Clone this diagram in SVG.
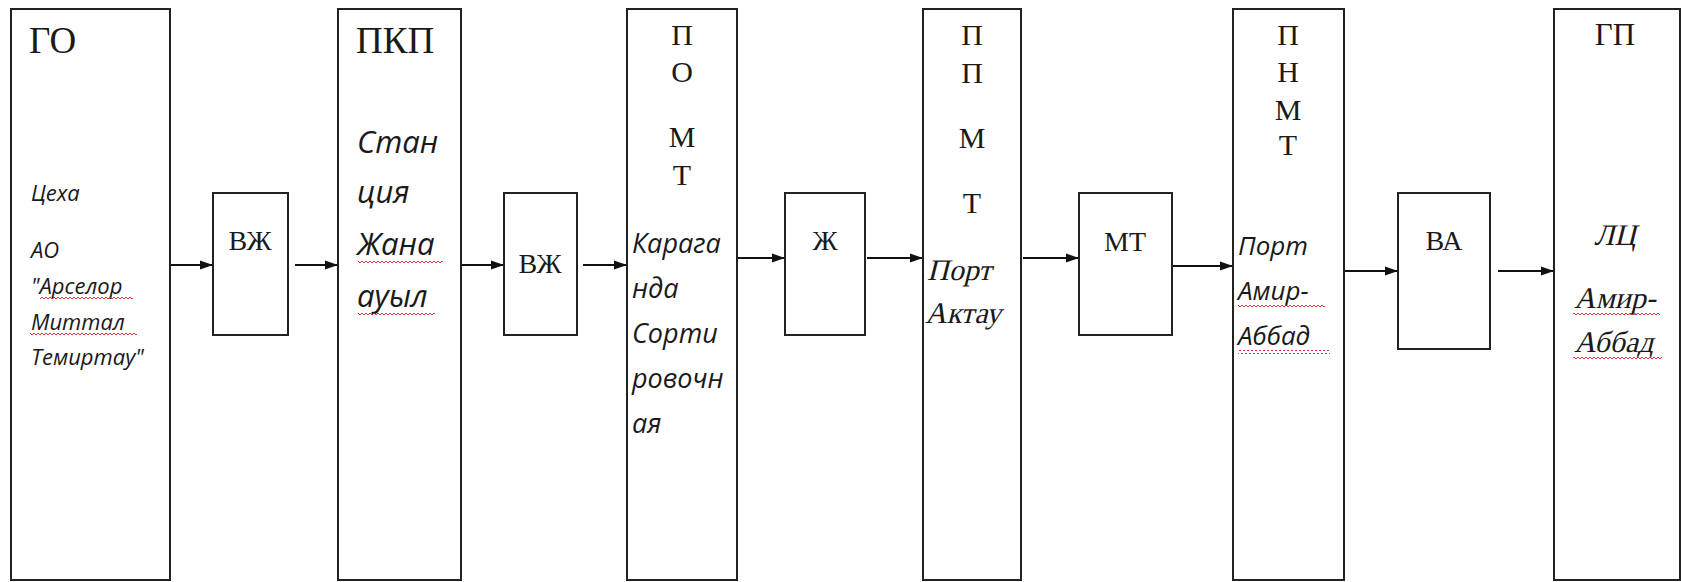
<svg xmlns="http://www.w3.org/2000/svg" width="1681" height="582" viewBox="0 0 1681 582">
<style>
.box{fill:#fff;stroke:#222;stroke-width:2}
.ln{stroke:#111;stroke-width:2;fill:none;marker-end:url(#ah)}
.t{font-family:"Liberation Serif","Times New Roman",serif;fill:#1a1a1a}
.big{font-size:37px}
.ltr{font-size:30px;text-anchor:middle}
.sm{font-size:28px;text-anchor:middle}
.si{font-family:"Open Sans","Noto Sans","DejaVu Sans",sans-serif;font-style:italic;fill:#1a1a1a}
.ti{font-family:"Liberation Serif","Times New Roman",serif;fill:#1a1a1a}
.wav{fill:url(#wave)}
</style>
<defs>
<marker id="ah" markerUnits="userSpaceOnUse" markerWidth="13" markerHeight="10" refX="13" refY="5" orient="auto">
<path d="M0,0.5 L13,5 L0,9.5 z" fill="#111"/>
</marker>
<pattern id="wave" patternUnits="userSpaceOnUse" width="4" height="4">
<path d="M0,3 L2,1 L4,3" fill="none" stroke="#d0202a" stroke-width="0.9"/>
</pattern>
</defs>

<g id="connectors">
<line class="ln" x1="170" y1="265" x2="213" y2="265"/>
<line class="ln" x1="295" y1="265" x2="338" y2="265"/>
<line class="ln" x1="461" y1="265" x2="504" y2="265"/>
<line class="ln" x1="583" y1="265" x2="627" y2="265"/>
<line class="ln" x1="737" y1="258" x2="785" y2="258"/>
<line class="ln" x1="867" y1="258" x2="923" y2="258"/>
<line class="ln" x1="1023" y1="258" x2="1079" y2="258"/>
<line class="ln" x1="1172" y1="266" x2="1233" y2="266"/>
<line class="ln" x1="1344" y1="271" x2="1398" y2="271"/>
<line class="ln" x1="1498" y1="271" x2="1554" y2="271"/>
</g>

<g id="node-go">
<rect class="box" x="11" y="9" width="159" height="571"/>
<text class="t big" x="29" y="53">ГО</text>
<g class="si" font-size="22">
<text x="31" y="201">Цеха</text>
<text x="31" y="258">АО</text>
<text x="31" y="294">"Арселор</text>
<text x="31" y="330">Миттал</text>
<text x="31" y="365">Темиртау"</text>
</g>
<rect class="wav" x="40" y="296" width="93" height="4"/>
<rect class="wav" x="30" y="332" width="107" height="4"/>
</g>

<g id="node-vzh1">
<rect class="box" x="213" y="193" width="75" height="142"/>
<text class="t sm" x="250" y="250">ВЖ</text>
</g>

<g id="node-pkp">
<rect class="box" x="338" y="9" width="123" height="571"/>
<text class="t big" x="356" y="53">ПКП</text>
<g class="si" font-size="31">
<text x="357" y="153">Стан</text>
<text x="357" y="203">ция</text>
<text x="357" y="255">Жана</text>
<text x="357" y="307">ауыл</text>
</g>
<rect class="wav" x="358" y="261" width="85" height="4"/>
<rect class="wav" x="358" y="311" width="77" height="4"/>
</g>

<g id="node-vzh2">
<rect class="box" x="504" y="193" width="73" height="142"/>
<text class="t sm" x="540" y="273">ВЖ</text>
</g>

<g id="node-pomt">
<rect class="box" x="627" y="9" width="110" height="571"/>
<g class="t ltr">
<text x="682" y="45">П</text>
<text x="682" y="82">О</text>
<text x="682" y="147">М</text>
<text x="682" y="185">Т</text>
</g>
<g class="si" font-size="27">
<text x="632" y="253">Карага</text>
<text x="632" y="298">нда</text>
<text x="632" y="343">Сорти</text>
<text x="632" y="388">ровочн</text>
<text x="632" y="433">ая</text>
</g>
</g>

<g id="node-zh">
<rect class="box" x="785" y="193" width="80" height="142"/>
<text class="t sm" x="825" y="250">Ж</text>
</g>

<g id="node-ppmt">
<rect class="box" x="923" y="9" width="98" height="571"/>
<g class="t ltr">
<text x="972" y="45">П</text>
<text x="972" y="83">П</text>
<text x="972" y="148">М</text>
<text x="972" y="213">Т</text>
</g>
<g class="ti" font-size="30">
<text transform="translate(927,280) skewX(-14)">Порт</text>
<text transform="translate(925,323) skewX(-14)">Актау</text>
</g>
</g>

<g id="node-mt">
<rect class="box" x="1079" y="193" width="93" height="142"/>
<text class="t sm" x="1125" y="251">МТ</text>
</g>

<g id="node-pnmt">
<rect class="box" x="1233" y="9" width="111" height="571"/>
<g class="t ltr">
<text x="1288" y="45">П</text>
<text x="1288" y="82">Н</text>
<text x="1288" y="120">М</text>
<text x="1288" y="155">Т</text>
</g>
<g class="si" font-size="26">
<text x="1238" y="255">Порт</text>
<text x="1238" y="300">Амир-</text>
<text x="1238" y="345">Аббад</text>
</g>
<rect class="wav" x="1238" y="305" width="87" height="4"/>
<rect class="wav" x="1238" y="350" width="92" height="4"/>
</g>

<g id="node-va">
<rect class="box" x="1398" y="193" width="92" height="156"/>
<text class="t sm" x="1444" y="250">ВА</text>
</g>

<g id="node-gp">
<rect class="box" x="1554" y="9" width="126" height="571"/>
<text class="t" font-size="31" text-anchor="middle" x="1615" y="45">ГП</text>
<g class="ti" font-size="30">
<text transform="translate(1615,245) skewX(-14)" text-anchor="middle">ЛЦ</text>
<text transform="translate(1574,308) skewX(-14)">Амир-</text>
<text transform="translate(1574,352) skewX(-14)">Аббад</text>
</g>
<rect class="wav" x="1573" y="311" width="87" height="4"/>
<rect class="wav" x="1573" y="355" width="89" height="4"/>
</g>
</svg>
